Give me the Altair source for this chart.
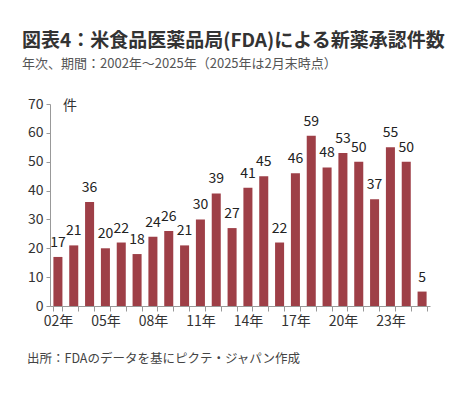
import altair as alt
import pandas as pd

years = list(range(2002, 2026))
counts = [17, 21, 36, 20, 22, 18, 24, 26, 21, 30, 39, 27, 41, 45, 22, 46, 59, 48, 53, 50, 37, 55, 50, 5]
labels = [f"{y % 100:02d}年" for y in years]
shown = ["02年", "05年", "08年", "11年", "14年", "17年", "20年", "23年"]

title = "図表4：米食品医薬品局(FDA)による新薬承認件数"
subtitle = "年次、期間：2002年～2025年（2025年は2月末時点）"
footer = "出所：FDAのデータを基にピクテ・ジャパン作成"
unit = "件"

df = pd.DataFrame({"label": labels, "count": counts})
FONT = "Noto Sans CJK JP"
BAR = "#9E3F47"

x = alt.X("label:N", sort=labels, title=None,
          scale=alt.Scale(paddingInner=0.43, paddingOuter=0.215),
          axis=alt.Axis(labelExpr="indexof(" + str(shown) + ", datum.value) >= 0 ? datum.value : ''",
                        labelAngle=0, tickBand="extent", tickSize=5, labelFontSize=14,
                        labelColor="#333", labelFont=FONT, domainColor="#999", tickColor="#999",
                        labelPadding=3, labelOverlap=False))
y = alt.Y("count:Q", title=None,
          scale=alt.Scale(domain=[0, 70]),
          axis=alt.Axis(values=list(range(0, 71, 10)), grid=False, tickSize=4, labelFontSize=14,
                        labelColor="#333", labelFont=FONT, domainColor="#999", tickColor="#999",
                        labelPadding=3, labelOverlap=False, labelFlush=False))

base = alt.Chart(df).encode(x=x, y=y)
bars = base.mark_bar(color=BAR)
texts = base.mark_text(baseline="alphabetic", dy=-10, fontSize=14, font=FONT, color="#222").encode(
    text="count:Q")

def txt(s, px, py, size, color, weight="normal"):
    return alt.Chart(pd.DataFrame({"t": [s]})).mark_text(
        align="left", baseline="alphabetic", fontSize=size, font=FONT, color=color, fontWeight=weight
    ).encode(x=alt.value(px), y=alt.value(py), text="t:N")

chart = alt.layer(
    bars, texts,
    txt(title, -28, -57, 19, "#333", "bold"),
    txt(subtitle, -28, -36, 13, "#555"),
    txt(unit, 13, 6, 14, "#333"),
    txt(footer, -23, 259, 12.5, "#444"),
).properties(
    width=380, height=202,
    autosize=alt.AutoSizeParams(type="none"),
    padding={"left": 42, "top": 96, "right": 26, "bottom": 82},
).configure_view(stroke=None)

chart.save("out.html", embed_options={"renderer": "svg", "actions": False})
